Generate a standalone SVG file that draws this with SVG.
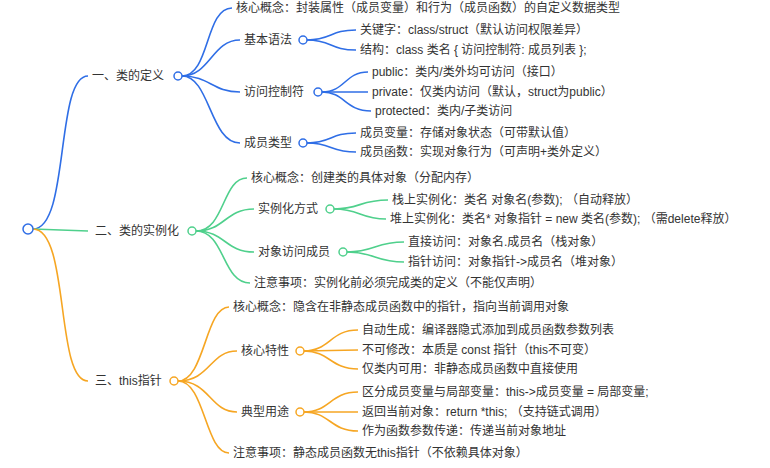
<svg xmlns="http://www.w3.org/2000/svg" width="770" height="468" viewBox="0 0 770 468">
<style>
text{font-family:"Liberation Sans","Noto Sans CJK SC",sans-serif;font-size:12px;fill:#333;dominant-baseline:central}
path{fill:none;stroke-width:1.6}
.b{stroke:#2f6ee6}.g{stroke:#4fd08c}.o{stroke:#f6a623}
circle{fill:#fff;stroke-width:1.5}
</style>
<rect width="770" height="468" fill="#fff"/>
<g id="connectors">
<path class="b" d="M33 229 C70 229 55 76 88 76"/>
<path class="g" d="M33 229 L88 231"/>
<path class="o" d="M33 229 C70 229 55 381 88 381"/>
<path class="b" d="M182 76 C210 76 205 8 232 8"/>
<path class="b" d="M182 76 C210 76 212 40 240 40"/>
<path class="b" d="M182 76 C210 76 212 92 240 92"/>
<path class="b" d="M182 76 C210 76 210 143 240 143"/>
<path class="b" d="M307 40 C332 40 330 30 356 30"/>
<path class="b" d="M307 40 C332 40 330 50 356 50"/>
<path class="b" d="M322 92 C345 92 345 72 368 72"/>
<path class="b" d="M322 92 L368 92"/>
<path class="b" d="M322 92 C345 92 345 111 371 111"/>
<path class="b" d="M307 143 C332 143 330 133 356 133"/>
<path class="b" d="M307 143 C332 143 330 152 356 152"/>
<path class="g" d="M196 231 C225 231 222 178 247 178"/>
<path class="g" d="M196 231 C225 231 225 209 254 209"/>
<path class="g" d="M196 231 C225 231 225 252 254 252"/>
<path class="g" d="M196 231 C225 231 222 283 250 283"/>
<path class="g" d="M334 209 C360 209 360 200 388 200"/>
<path class="g" d="M334 209 C360 209 360 219 386 219"/>
<path class="g" d="M347 252 C375 252 375 242 404 242"/>
<path class="g" d="M347 252 C375 252 375 262 404 262"/>
<path class="o" d="M178 381 C205 381 205 307 229 307"/>
<path class="o" d="M178 381 C210 381 210 351 237 351"/>
<path class="o" d="M178 381 C210 381 210 412 237 412"/>
<path class="o" d="M178 381 C205 381 205 453 229 453"/>
<path class="o" d="M304 351 C330 351 330 330 358 330"/>
<path class="o" d="M304 351 L358 350"/>
<path class="o" d="M304 351 C330 351 330 369 358 369"/>
<path class="o" d="M304 412 C330 412 330 392 358 392"/>
<path class="o" d="M304 412 L358 412"/>
<path class="o" d="M304 412 C330 412 330 431 358 431"/>
</g>
<g id="root"><circle cx="28" cy="229" r="5" stroke="#2f6ee6"/></g>
<g id="n1"><text x="92" y="76">一、类的定义</text><circle cx="178" cy="76" r="4" stroke="#2f6ee6"/></g>
<g id="n1a"><text x="236" y="8">核心概念：封装属性（成员变量）和行为（成员函数）的自定义数据类型</text></g>
<g id="n1b"><text x="244" y="40">基本语法</text><circle cx="303" cy="40" r="4" stroke="#2f6ee6"/></g>
<g id="n1b1"><text x="360" y="30">关键字：class/struct（默认访问权限差异）</text></g>
<g id="n1b2"><text x="360" y="50">结构：class 类名 { 访问控制符: 成员列表 };</text></g>
<g id="n1c"><text x="244" y="92">访问控制符</text><circle cx="318" cy="92" r="4" stroke="#2f6ee6"/></g>
<g id="n1c1"><text x="372" y="72">public：类内/类外均可访问（接口）</text></g>
<g id="n1c2"><text x="372" y="92">private：仅类内访问（默认，struct为public）</text></g>
<g id="n1c3"><text x="375" y="111">protected：类内/子类访问</text></g>
<g id="n1d"><text x="244" y="143">成员类型</text><circle cx="303" cy="143" r="4" stroke="#2f6ee6"/></g>
<g id="n1d1"><text x="360" y="133">成员变量：存储对象状态（可带默认值）</text></g>
<g id="n1d2"><text x="360" y="152">成员函数：实现对象行为（可声明+类外定义）</text></g>
<g id="n2"><text x="95" y="231">二、类的实例化</text><circle cx="192" cy="231" r="4" stroke="#4fd08c"/></g>
<g id="n2a"><text x="251" y="178">核心概念：创建类的具体对象（分配内存）</text></g>
<g id="n2b"><text x="258" y="209">实例化方式</text><circle cx="330" cy="209" r="4" stroke="#4fd08c"/></g>
<g id="n2b1"><text x="392" y="200">栈上实例化：类名 对象名(参数); （自动释放）</text></g>
<g id="n2b2"><text x="390" y="219">堆上实例化：类名* 对象指针 = new 类名(参数); （需delete释放）</text></g>
<g id="n2c"><text x="258" y="252">对象访问成员</text><circle cx="343" cy="252" r="4" stroke="#4fd08c"/></g>
<g id="n2c1"><text x="408" y="242">直接访问：对象名.成员名（栈对象）</text></g>
<g id="n2c2"><text x="408" y="262">指针访问：对象指针-&gt;成员名（堆对象）</text></g>
<g id="n2d"><text x="254" y="283">注意事项：实例化前必须完成类的定义（不能仅声明）</text></g>
<g id="n3"><text x="95" y="381">三、this指针</text><circle cx="174" cy="381" r="4" stroke="#f6a623"/></g>
<g id="n3a"><text x="233" y="307">核心概念：隐含在非静态成员函数中的指针，指向当前调用对象</text></g>
<g id="n3b"><text x="241" y="351">核心特性</text><circle cx="300" cy="351" r="4" stroke="#f6a623"/></g>
<g id="n3b1"><text x="362" y="330">自动生成：编译器隐式添加到成员函数参数列表</text></g>
<g id="n3b2"><text x="362" y="350">不可修改：本质是 const 指针（this不可变）</text></g>
<g id="n3b3"><text x="362" y="369">仅类内可用：非静态成员函数中直接使用</text></g>
<g id="n3c"><text x="241" y="412">典型用途</text><circle cx="300" cy="412" r="4" stroke="#f6a623"/></g>
<g id="n3c1"><text x="362" y="392">区分成员变量与局部变量：this-&gt;成员变量 = 局部变量;</text></g>
<g id="n3c2"><text x="362" y="412">返回当前对象：return *this; （支持链式调用）</text></g>
<g id="n3c3"><text x="362" y="431">作为函数参数传递：传递当前对象地址</text></g>
<g id="n3d"><text x="233" y="453">注意事项：静态成员函数无this指针（不依赖具体对象）</text></g>
</svg>
